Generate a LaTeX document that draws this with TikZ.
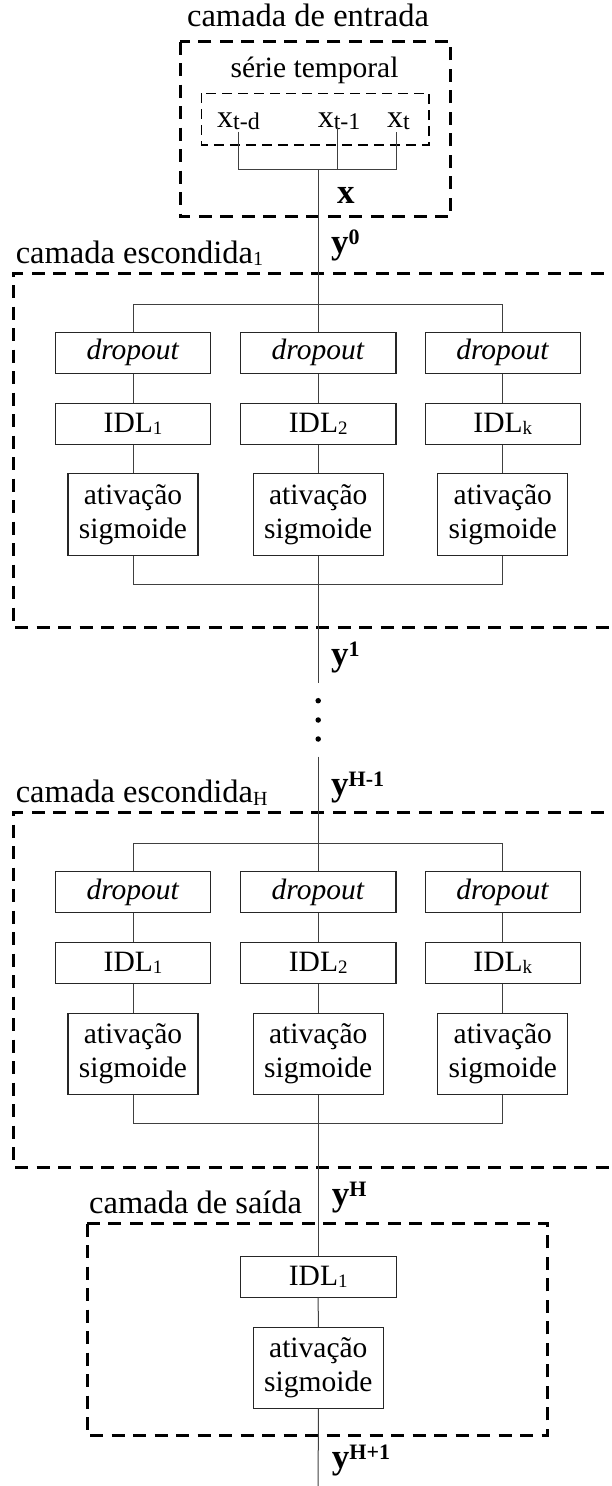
\documentclass[tikz,border=0pt]{standalone}
\usepackage{fontspec}
\setmainfont{Liberation Serif}
\newcommand\boxsub[1]{\raisebox{-2pt}{\fontsize{19}{19}\selectfont #1}}
\newcommand\xsub[1]{\raisebox{-2.5pt}{\fontsize{24}{24}\selectfont #1}}
\newcommand\labsub[1]{\raisebox{-2.5pt}{\fontsize{20}{20}\selectfont #1}}
\newcommand\ysup[1]{\raisebox{8.5pt}{\fontsize{22}{22}\selectfont\bfseries #1}}
\begin{document}
\begin{tikzpicture}[x=1pt,y=-1pt,
  thickdash/.style={line width=3pt, dash pattern=on 13pt off 8.5pt},
  thindash/.style={line width=1.2pt, dash pattern=on 10pt off 6pt},
  wire/.style={line width=1pt, draw=black!75},
  box/.style={draw=black!85, line width=1.1pt, inner sep=0pt, font=\fontsize{29.5}{34}\selectfont},
  dbox/.style={box, minimum width=155.5pt, minimum height=41pt},
  abox/.style={box, minimum width=130pt, minimum height=81.6pt, align=center},
  lab/.style={inner sep=0pt, anchor=base west, font=\fontsize{32.5}{36}\selectfont},
  ylab/.style={inner sep=0pt, anchor=base west, font=\fontsize{35}{38}\selectfont\bfseries},
  xlab/.style={inner sep=0pt, anchor=base west, font=\fontsize{32}{36}\selectfont},
  dot/.style={circle, fill=black, inner sep=0pt, minimum size=5.5pt}]

\useasboundingbox (0,0) rectangle (611,1486);

% ---------------- input layer ----------------
\node[lab, anchor=base] (lin) at (308,26) {camada de entrada};
\draw[thickdash] (180.4,41.7) rectangle (450.9,216.7);
\node[inner sep=0pt, anchor=base, font=\fontsize{29.5}{34}\selectfont] (serie) at (314.5,77.3) {série temporal};
\draw[thindash] (201.5,93.3) rectangle (429,145);
\node[xlab] (xtd) at (217,127) {x\xsub{t-d}};
\node[xlab] (xt1) at (317.6,127) {x\xsub{t-1}};
\node[xlab] (xt) at (387,127) {x\xsub{t}};
\coordinate (ctd) at (238.1,131.7);
\coordinate (ct1) at (337.9,128.3);
\coordinate (ct) at (396.9,131.7);
\coordinate (xbus) at (318.2,169.3);
\draw[wire] (ctd) -- (ctd |- xbus) -- (ct |- xbus) -- (ct);
\draw[wire] (ct1) -- (ct1 |- xbus);
\node[ylab] (lx) at (337,203) {x};
\node[ylab] (ly0) at (331,253) {y\ysup{0}};

% ---------------- hidden layers ----------------
\foreach \o/\p/\s in {0/a/1, 539.5/b/H}{
  \begin{scope}[yshift=-\o pt]
    \draw[thickdash] (625,273) -- (13.6,273) -- (13.6,627.7) -- (625,627.7);
    \node[lab] (\p-lab) at (15.6,263) {camada escondida\labsub{\s}};
    \coordinate (\p-top) at (318.2,304.3);
    \coordinate (\p-bot) at (318.2,584.3);
    \foreach \cx/\i/\k in {133/1/1, 318.2/2/2, 502.8/3/k}{
      \node[dbox] (\p-d\i) at (\cx,352.8) {\textit{dropout}};
      \node[dbox] (\p-i\i) at (\cx,423.7) {IDL\boxsub{\k}};
      \node[abox] (\p-s\i) at (\cx,514.5) {ativação\\sigmoide};
      \draw[wire] (\p-d\i.north |- \p-top) -- (\p-d\i.north);
      \draw[wire] (\p-d\i.south) -- (\p-i\i.north);
      \draw[wire] (\p-i\i.south) -- (\p-s\i.north);
      \draw[wire] (\p-s\i.south) -- (\p-s\i.south |- \p-bot);
    }
    \draw[wire] (\p-d1.north |- \p-top) -- (\p-d3.north |- \p-top);
    \draw[wire] (\p-s1.south |- \p-bot) -- (\p-s3.south |- \p-bot);
  \end{scope}
}

\draw[wire] (xbus) -- (a-top);
\coordinate (cut1) at (318.2,682.7);
\draw[wire] (a-bot) -- (cut1);
\node[ylab] (ly1) at (331,665) {y\ysup{1}};
\node[dot] (dt1) at (318.2,700.7) {};
\node[dot] (dt2) at (318.2,720) {};
\node[dot] (dt3) at (318.2,739) {};
\coordinate (cut2) at (318.2,756.7);
\draw[wire] (cut2) -- (b-top);
\node[ylab] (lyh1) at (331,795) {y\ysup{H-1}};

% ---------------- output layer ----------------
\node[ylab] (lyh) at (331.7,1205) {y\ysup{H}};
\node[lab] (lout) at (89,1213) {camada de saída};
\draw[thickdash] (87.3,1223.5) rectangle (547.7,1435.7);
\node[dbox, minimum width=155.7pt, minimum height=40.3pt] (oi) at (318.2,1276.9) {IDL\boxsub{1}};
\node[abox, minimum height=81pt] (os) at (318.3,1367.8) {ativação\\sigmoide};
\coordinate (yend) at (318.2,1486);
\draw[wire] (b-bot) -- (oi.north);
\draw[wire] (oi.south) -- (os.north);
\draw[wire] (os.south) -- (yend);
\node[ylab] (lyh2) at (331.7,1468) {y\ysup{H+1}};
\end{tikzpicture}
\end{document}
